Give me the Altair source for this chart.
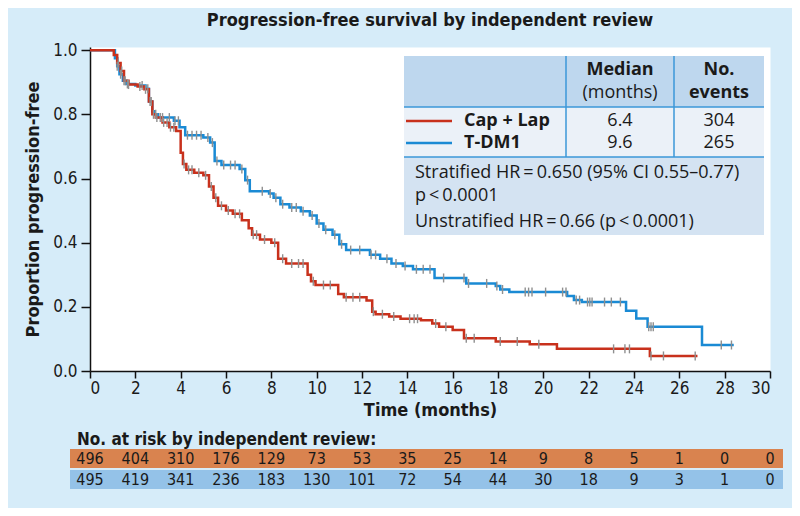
import altair as alt
import pandas as pd
import numpy as np

# ---------------- data ----------------
cap_t = [0, 1.05, 1.2, 1.35, 1.5, 1.7, 2.1, 2.4, 2.6, 2.75, 2.9, 3.2, 3.5, 3.8, 4.0, 4.1, 4.25, 4.6, 5.0,
         5.25, 5.45, 5.65, 6.0, 6.3, 6.7, 7.0, 7.15, 7.5, 8.0, 8.3, 8.65, 9.6, 9.75, 9.95, 10.95, 11.2,
         12.2, 12.45, 12.6, 13.2, 13.7, 14.6, 15.1, 15.4, 16.0, 16.5, 17.9, 19.4, 20.6, 24.7, 26.8]
cap_s = [1.0, 0.985, 0.96, 0.935, 0.905, 0.893, 0.887, 0.878, 0.84, 0.80, 0.79, 0.775, 0.76, 0.748, 0.68,
         0.645, 0.627, 0.618, 0.61, 0.575, 0.54, 0.515, 0.50, 0.49, 0.47, 0.445, 0.425, 0.41, 0.40, 0.35,
         0.335, 0.30, 0.28, 0.268, 0.24, 0.23, 0.22, 0.185, 0.177, 0.17, 0.163, 0.158, 0.148, 0.138, 0.128,
         0.102, 0.092, 0.083, 0.069, 0.047, 0.047]

tdm_t = [0, 1.1, 1.2, 1.3, 1.45, 1.6, 2.0, 2.45, 2.6, 2.75, 2.85, 3.0, 3.7, 3.95, 4.2, 5.0, 5.3, 5.5, 5.8,
         6.6, 6.85, 7.05, 7.9, 8.1, 8.4, 8.8, 9.3, 9.7, 10.0, 10.3, 10.7, 11.0, 11.3, 12.35, 12.8, 13.3,
         13.8, 14.25, 15.2, 16.6, 17.9, 18.1, 18.5, 21.05, 21.35, 21.7, 23.65, 24.1, 24.6, 27.0, 28.4]
tdm_s = [1.0, 0.975, 0.95, 0.925, 0.905, 0.895, 0.89, 0.88, 0.84, 0.81, 0.80, 0.79, 0.78, 0.76, 0.735,
         0.728, 0.712, 0.655, 0.642, 0.63, 0.595, 0.56, 0.553, 0.54, 0.52, 0.51, 0.498, 0.485, 0.46, 0.44,
         0.425, 0.395, 0.377, 0.362, 0.35, 0.335, 0.327, 0.317, 0.29, 0.273, 0.265, 0.254, 0.246, 0.234,
         0.221, 0.215, 0.188, 0.164, 0.138, 0.081, 0.081]

cap_cens = [1.25, 1.4, 1.55, 1.7, 2.2, 2.45, 2.65, 2.8, 2.95, 3.1, 3.25, 3.4, 3.55, 3.7, 4.15, 4.35, 4.5,
            4.8, 5.1, 5.35, 5.55, 5.8, 6.1, 6.4, 6.6, 7.2, 7.35, 7.7, 8.15, 8.5, 8.9, 9.2, 9.4, 9.85,
            10.3, 10.6, 11.3, 11.6, 11.9, 12.5, 12.9, 13.4, 14.1, 14.3, 14.45, 15.25, 15.7, 16.6, 16.95,
            18.1, 18.85, 19.8, 23.1, 23.6, 23.8, 24.75, 25.3, 26.7]
tdm_cens = [1.2, 1.35, 1.5, 1.65, 2.3, 2.55, 2.7, 2.9, 3.2, 3.5, 3.75, 3.9, 4.3, 4.5, 4.7, 4.9, 5.2, 5.4,
            5.6, 5.9, 6.2, 6.4, 6.7, 6.95, 7.6, 7.95, 8.2, 8.5, 8.9, 9.1, 9.4, 9.8, 10.1, 10.4, 10.8,
            11.1, 11.5, 11.9, 12.4, 12.6, 13.1, 13.5, 13.9, 14.4, 14.7, 15.0, 15.6, 16.5, 16.7, 17.5,
            17.95, 18.2, 19.2, 19.35, 19.5, 20.1, 20.85, 21.0, 21.45, 21.6, 21.95, 22.05, 22.15, 22.7,
            23.0, 23.4, 24.65, 24.75, 24.85, 27.85, 28.3]

arms = ["Cap + Lap", "T-DM1"]
medians = ["6.4", "9.6"]
events = ["304", "265"]

risk_months = list(range(0, 31, 2))
risk_cap = [496, 404, 310, 176, 129, 73, 53, 35, 25, 14, 9, 8, 5, 1, 0, 0]
risk_tdm = [495, 419, 341, 236, 183, 130, 101, 72, 54, 44, 30, 18, 9, 3, 1, 0]

# ---------------- styles ----------------
RED = "#c8311c"
BLUE = "#1a8ad4"
CENS = "#8f8f8f"
BG = "#d6ecf9"
COND = "Liberation Sans Narrow, DejaVu Sans Condensed, Roboto Condensed, Roboto, sans-serif"
SANS = "Open Sans, Noto Sans, sans-serif"
INK = "#1a1a1a"

xscale = alt.Scale(domain=[0, 30], nice=False)
yscale = alt.Scale(domain=[0, 1.01], nice=False)


def surv_at(ts, ss, t):
    i = np.searchsorted(np.array(ts), t, side="right") - 1
    return ss[i]


def km_layer(ts, ss, color):
    df = pd.DataFrame({"t": ts, "s": ss})
    return alt.Chart(df).mark_line(interpolate="step-after", color=color, strokeWidth=2.5).encode(
        x=alt.X("t:Q", scale=xscale), y=alt.Y("s:Q", scale=yscale))


def cens_layers(ts, ss, cens):
    df = pd.DataFrame({"t": cens, "s": [surv_at(ts, ss, c) for c in cens]})
    return alt.Chart(df).mark_tick(orient="vertical", color=CENS, size=9, thickness=1.4, opacity=1).encode(
        x=alt.X("t:Q", scale=xscale), y=alt.Y("s:Q", scale=yscale))


def label(text, x, y, size=18, weight="normal", align="left", font=SANS, color=INK, baseline="middle"):
    return alt.Chart(pd.DataFrame({"t": [text]})).mark_text(
        font=font, fontSize=size, fontWeight=weight, align=align, baseline=baseline, color=color
    ).encode(text="t:N", x=alt.value(x), y=alt.value(y))


def rect(x, x2, y, y2, color):
    return alt.Chart(pd.DataFrame({"a": [0]})).mark_rect(color=color).encode(
        x=alt.value(x), x2=alt.value(x2), y=alt.value(y), y2=alt.value(y2))


def rule(x, x2, y, y2, color, width=1.5):
    return alt.Chart(pd.DataFrame({"a": [0]})).mark_rule(color=color, strokeWidth=width).encode(
        x=alt.value(x), x2=alt.value(x2), y=alt.value(y), y2=alt.value(y2))


# axes carrier
axis_df = pd.DataFrame({"t": [0, 30], "s": [0, 1.0]})
axes = alt.Chart(axis_df).mark_point(opacity=0).encode(
    x=alt.X("t:Q", scale=xscale, axis=alt.Axis(
        values=list(range(0, 31, 2)), tickSize=7, tickWidth=1.5, tickColor="#111",
        domainColor="#111", domainWidth=1.5, grid=False, labelFont=COND, labelFontSize=17,
        labelColor=INK, labelPadding=2, title="Time (months)", titleFont=COND, titleFontSize=18,
        titleFontWeight="bold", titleColor=INK, titlePadding=5)),
    y=alt.Y("s:Q", scale=yscale, axis=alt.Axis(
        values=[0, 0.2, 0.4, 0.6, 0.8, 1.0], format=".1f", tickSize=9, tickWidth=1.5,
        tickColor="#111", domainColor="#111", domainWidth=1.5, grid=False, labelFont=COND,
        labelFontSize=17, labelColor=INK, labelPadding=4, title="Proportion progression-free",
        titleFont=COND, titleFontSize=18, titleFontWeight="bold", titleColor=INK, titlePadding=10)),
)

# ---------------- legend/statistics box (view pixel coords) ----------------
bx0, bx1 = 314, 674
box = [
    rect(bx0, bx1, 9, 60, "#bed7ee"),
    rect(bx0, bx1, 60, 110, "#ebf1f8"),
    rect(bx0, bx1, 110, 188, "#d4e3f2"),
    rule(476, 476, 9, 110, "#3b97d9"),
    rule(584, 584, 9, 110, "#3b97d9"),
    rule(bx0, bx1, 60, 60, "#3b97d9"),
    rule(bx0, bx1, 110, 110, "#3b97d9"),
    label("Median", 530, 23, weight="bold", align="center"),
    label("(months)", 530, 46, align="center"),
    label("No.", 629, 23, weight="bold", align="center"),
    label("events", 629, 46, weight="bold", align="center"),
    rule(316, 362, 74, 74, RED, 2.5),
    rule(316, 362, 96, 96, BLUE, 2.5),
    label(arms[0], 374, 74, weight="bold"),
    label(arms[1], 374, 96, weight="bold"),
    label(medians[0], 530, 74, align="center"),
    label(medians[1], 530, 96, align="center"),
    label(events[0], 629, 74, align="center"),
    label(events[1], 629, 96, align="center"),
    label("Stratified HR\u2009=\u20090.650 (95% CI 0.55\u20130.77)", 325, 126),
    label("p\u2009<\u20090.0001", 325, 149),
    label("Unstratified HR\u2009=\u20090.66 (p\u2009<\u20090.0001)", 325, 175),
]

# ---------------- risk table ----------------
risk_df_cap = pd.DataFrame({"m": risk_months, "n": [str(v) for v in risk_cap]})
risk_df_tdm = pd.DataFrame({"m": risk_months, "n": [str(v) for v in risk_tdm]})
risk = [
    label("No. at risk by independent review:", -13, 393, size=17, weight="bold", font=COND),
    rect(-20, 693, 402, 421, "#d9834f"),
    rect(-20, 693, 423, 442, "#94c2e8"),
    alt.Chart(risk_df_cap).mark_text(font=COND, fontSize=16, color=INK, baseline="middle").encode(
        x=alt.X("m:Q", scale=xscale), y=alt.value(411.5), text="n:N"),
    alt.Chart(risk_df_tdm).mark_text(font=COND, fontSize=16, color=INK, baseline="middle").encode(
        x=alt.X("m:Q", scale=xscale), y=alt.value(432.5), text="n:N"),
]

title = label("Progression-free survival by independent review", 340, -26, size=18, weight="bold",
              align="center", font=COND)

chart = alt.layer(
    axes,
    km_layer(tdm_t, tdm_s, BLUE),
    km_layer(cap_t, cap_s, RED),
    cens_layers(tdm_t, tdm_s, tdm_cens),
    cens_layers(cap_t, cap_s, cap_cens),
    *box,
    *risk,
    title,
).properties(
    width=680, height=324,
    autosize=alt.AutoSizeParams(type="none"),
    padding={"left": 82, "top": 39, "right": 22, "bottom": 137},
    background=BG,
).configure_view(fill="white", stroke="transparent")

chart.save("out.html", embed_options={"renderer": "svg", "actions": False})
